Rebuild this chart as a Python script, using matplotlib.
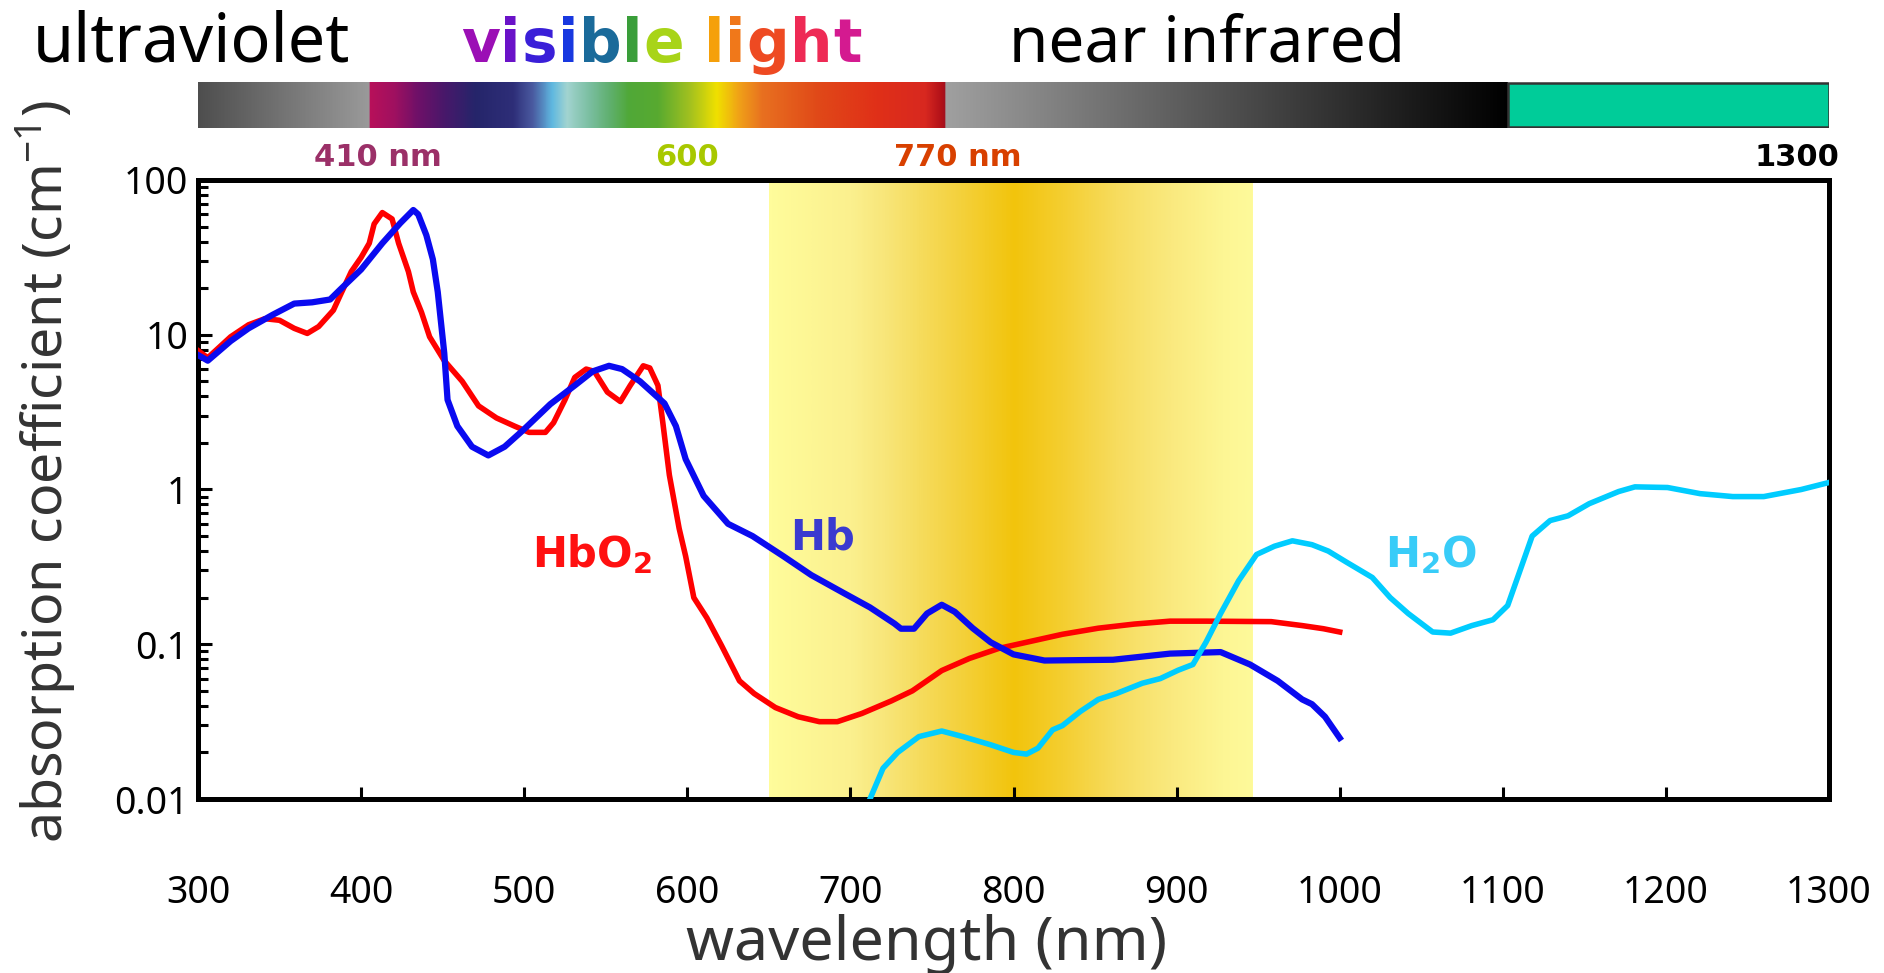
import numpy as np
import matplotlib
matplotlib.use('Agg')
import matplotlib.pyplot as plt
from matplotlib.colors import LinearSegmentedColormap
from matplotlib.patches import Rectangle
from matplotlib.ticker import LogLocator, NullFormatter

plt.rcParams['font.family'] = ['Noto Sans', 'DejaVu Sans']
plt.rcParams['mathtext.fontset'] = 'custom'
plt.rcParams['mathtext.rm'] = 'Noto Sans'
plt.rcParams['mathtext.bf'] = 'DejaVu Sans:bold'
plt.rcParams['mathtext.it'] = 'Noto Sans:italic'
BOLD = ['DejaVu Sans']

# ---- data ----
# oxy-haemoglobin (HbO2), absorption coefficient in cm-1
hbo2_wl = [300, 306, 320, 331, 341, 350, 359, 367, 374, 383, 387, 394, 400, 405, 408,
           413, 419, 423, 429, 432, 437, 442, 451, 462, 472, 483, 494, 503, 513, 518,
           525, 531, 538, 543, 551, 559, 565, 573, 577, 582, 585, 589, 595, 599, 604,
           612, 621, 632, 641, 654, 668, 681, 692, 707, 725, 738, 756, 773, 791, 808,
           830, 852, 874, 896, 918, 958, 977, 990, 1000]
hbo2_mu = [7.9, 7.1, 9.7, 11.6, 12.7, 12.4, 11.0, 10.2, 11.3, 14.4, 17.8, 25.6, 31.6, 39, 52,
           61.6, 56, 39, 25.6, 18.9, 14, 9.7, 6.8, 5.0, 3.47, 2.9, 2.57, 2.34, 2.34, 2.7,
           3.8, 5.3, 6.0, 5.8, 4.26, 3.7, 4.7, 6.3, 6.1, 4.7, 2.7, 1.24, 0.56, 0.37, 0.2,
           0.148, 0.098, 0.058, 0.048, 0.039, 0.034, 0.0316, 0.0316, 0.0357, 0.043, 0.05,
           0.0676, 0.081, 0.094, 0.103, 0.116, 0.127, 0.135, 0.141, 0.141, 0.14, 0.132,
           0.126, 0.12]

# deoxy-haemoglobin (Hb)
hb_wl = [300, 306, 320, 331, 346, 359, 370, 381, 387, 400, 413, 424, 432, 435, 440, 444,
         447, 451, 453, 459, 468, 478, 488, 499, 516, 531, 542, 552, 560, 571, 586, 593,
         599, 610, 625, 640, 659, 676, 696, 712, 727, 731, 739, 747, 756, 764, 775, 786,
         800, 819, 861, 896, 927, 945, 962, 977, 983, 991, 1000]
hb_mu = [7.4, 6.8, 9.1, 11, 13.5, 15.9, 16.2, 16.9, 19.5, 26.4, 39, 52.6, 64, 60, 44, 30.7,
         18.9, 7.6, 3.8, 2.57, 1.89, 1.66, 1.89, 2.4, 3.56, 4.7, 5.8, 6.3, 6.0, 5.0, 3.6, 2.57,
         1.57, 0.91, 0.6, 0.5, 0.37, 0.28, 0.214, 0.173, 0.136, 0.126, 0.126, 0.158, 0.18,
         0.162, 0.127, 0.103, 0.086, 0.0785, 0.0794, 0.087, 0.089, 0.074, 0.058, 0.044,
         0.041, 0.034, 0.0248]

# water
h2o_wl = [712, 720, 729, 742, 756, 769, 786, 800, 808, 815, 824, 830, 841, 852, 863, 879,
          890, 901, 910, 918, 927, 938, 949, 960, 971, 983, 993, 1004, 1020, 1031, 1042,
          1057, 1068, 1081, 1094, 1103, 1110, 1118, 1129, 1140, 1153, 1171, 1181, 1201,
          1221, 1241, 1260, 1283, 1300]
h2o_mu = [0.01, 0.0158, 0.02, 0.0253, 0.0275, 0.0253, 0.0224, 0.02, 0.0195, 0.0213, 0.028,
          0.0298, 0.0368, 0.044, 0.048, 0.056, 0.06, 0.068, 0.074, 0.103, 0.158, 0.257, 0.38,
          0.43, 0.466, 0.44, 0.40, 0.34, 0.27, 0.2, 0.158, 0.12, 0.118, 0.132, 0.144, 0.178,
          0.288, 0.5, 0.63, 0.676, 0.81, 0.97, 1.04, 1.03, 0.94, 0.90, 0.90, 1.0, 1.11]

x_ticks = [300, 400, 500, 600, 700, 800, 900, 1000, 1100, 1200, 1300]
y_ticks = [0.01, 0.1, 1, 10, 100]
y_tick_labels = ['0.01', '0.1', '1', '10', '100']

# optical window (shaded band)
window_wl = [650, 700, 720, 764, 800, 830, 863, 896, 929, 947]
window_col = ['#FFFC9B', '#FBF08E', '#F8E67A', '#F4D240', '#F2C40C', '#F4CE30',
              '#F7DC5E', '#FAE97E', '#FDF694', '#FEFA9A']

# colour strip above the plot
strip_wl = [300, 405, 405, 420, 434, 451, 470, 493, 505, 517, 526, 540, 552, 564, 582,
            601, 618, 632, 646, 681, 716, 746, 756, 758, 758, 1103]
strip_col = ['#4E4E4E', '#9A9A9A', '#B8105A', '#A01060', '#701068', '#48186A', '#25256A',
             '#2E2E78', '#4A5AA0', '#5FB8E0', '#A2D4D0', '#7ABEA0', '#60B070', '#50A838',
             '#58AA30', '#A0C020', '#F0E000', '#F0A018', '#E87020', '#E04818', '#E03018',
             '#D82820', '#B01018', '#A01020', '#A0A0A0', '#000000']
nir_box = (1103, 1300)

W, H = 1884, 973


def fx(px):
    return px / W


def fy(py):
    return 1 - py / H


fig = plt.figure(figsize=(W / 100, H / 100), dpi=100)
ax = fig.add_axes([fx(198), fy(799), (1829 - 198) / W, (799 - 180) / H])

# shaded band
band_cmap = LinearSegmentedColormap.from_list(
    'band', [((w - window_wl[0]) / (window_wl[-1] - window_wl[0]), c)
             for w, c in zip(window_wl, window_col)])
ax.imshow(np.linspace(0, 1, 600)[None, :], cmap=band_cmap, aspect='auto',
          extent=(window_wl[0], window_wl[-1], 0.01, 100), zorder=0, interpolation='bilinear')

ax.plot(hbo2_wl, hbo2_mu, color='#FF0000', lw=4.0, zorder=3)
ax.plot(hb_wl, hb_mu, color='#0A0AF0', lw=4.5, zorder=4)
ax.plot(h2o_wl, h2o_mu, color='#00CCFF', lw=4.0, zorder=5)

ax.set_yscale('log')
ax.set_xlim(300, 1300)
ax.set_ylim(0.01, 100)
ax.set_xticks(x_ticks)
ax.set_xticklabels([str(v) for v in x_ticks])
ax.set_yticks(y_ticks)
ax.set_yticklabels(y_tick_labels)
ax.yaxis.set_minor_locator(LogLocator(base=10, subs=range(2, 10)))
ax.yaxis.set_minor_formatter(NullFormatter())
ax.tick_params(axis='both', which='both', direction='in', width=2.2, labelsize=27)
ax.tick_params(axis='y', which='major', length=10, pad=7)
ax.tick_params(axis='y', which='minor', length=7)
ax.tick_params(axis='x', which='major', length=8.5, pad=54)
for sp in ax.spines.values():
    sp.set_linewidth(3.6)

ax.set_xlabel('wavelength (nm)', fontsize=44, color='#333333')
ax.xaxis.set_label_coords(0.447, -0.186)
ax.set_ylabel(r'absorption coefficient (cm$^{\mathregular{-1}}$)', fontsize=40, color='#333333')
ax.yaxis.set_label_coords(-0.0736, 0.529)

ax.text(541.7, 0.315, r'HbO$_\mathbf{2}$', color='#FF1010', fontsize=30, fontweight='bold',
        family=BOLD, ha='center', va='baseline')
ax.text(683, 0.41, 'Hb', color='#3A3AD0', fontsize=30, fontweight='bold',
        family=BOLD, ha='center', va='baseline')
ax.text(1056, 0.315, r'H$_\mathbf{2}$O', color='#38CCF8', fontsize=30, fontweight='bold',
        family=BOLD, ha='center', va='baseline')

# colour strip
bar_ax = fig.add_axes([fx(198), fy(128), (1829 - 198) / W, 46 / H])
strip_cmap = LinearSegmentedColormap.from_list(
    'strip', [((w - strip_wl[0]) / (strip_wl[-1] - strip_wl[0]), c)
              for w, c in zip(strip_wl, strip_col)], N=2048)
bar_ax.imshow(np.linspace(0, 1, 2000)[None, :], cmap=strip_cmap, aspect='auto',
              extent=(strip_wl[0], strip_wl[-1], 0, 1), interpolation='bilinear')
bar_ax.add_patch(Rectangle((nir_box[0], 0.02), nir_box[1] - nir_box[0], 0.96,
                           facecolor='#00CC99', edgecolor='#333333', lw=1.8))
bar_ax.set_xlim(300, 1300)
bar_ax.set_ylim(0, 1)
bar_ax.axis('off')

for lbl, px, col in [('410 nm', 378, '#9B3068'), ('600', 687, '#A8C800'),
                     ('770 nm', 958, '#D84000'), ('1300', 1797, 'black')]:
    fig.text(fx(px), fy(166), lbl, color=col, fontsize=22, fontweight='bold',
             family=BOLD, ha='center', va='baseline')

# headline words
fig.text(fx(191), fy(62), 'ultraviolet', color='black', fontsize=48, ha='center', va='baseline')
fig.text(fx(1207), fy(62), 'near infrared', color='black', fontsize=46, ha='center', va='baseline')

vis_letters = list('visible light')
vis_colors = ['#9B0FB5', '#6A12C8', '#3A1FD8', '#1838E0', '#1A6A9A', '#3A9E3A', '#A8D418',
              None, '#F5A00A', '#F0781A', '#EE4A22', '#EE2A55', '#D41A90']
first = fig.text(0, fy(62), vis_letters[0], color=vis_colors[0], fontsize=43,
                 fontweight='bold', family=BOLD, ha='left', va='baseline')
prev = first
vis_texts = [first]
gap = 0.5
for ch, col in zip(vis_letters[1:], vis_colors[1:]):
    if ch == ' ':
        gap = 14
        continue
    t = bar_ax.annotate(ch, xy=(1, 0), xycoords=prev, xytext=(gap, 0),
                        textcoords='offset points', ha='left', va='bottom',
                        color=col, fontsize=43, fontweight='bold', family=BOLD,
                        annotation_clip=False)
    vis_texts.append(t)
    prev = t
    gap = 0.5

fig.canvas.draw()
r = fig.canvas.get_renderer()
x0 = vis_texts[0].get_window_extent(r).x0
x1 = vis_texts[-1].get_window_extent(r).x1
first.set_x((661 - (x1 - x0) / 2) / W)

fig.savefig('out.png', dpi=100)
